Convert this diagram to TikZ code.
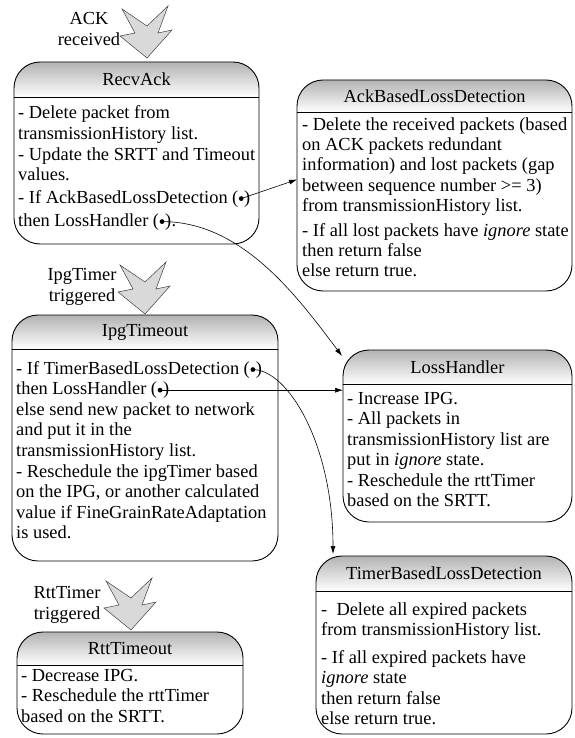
\documentclass[tikz,border=0pt]{standalone}
\usepackage{fontspec}
\setmainfont{Liberation Serif}
\usetikzlibrary{positioning,arrows.meta}
\newcommand{\rc}{26}
\newcommand{\ls}{20.6}
\colorlet{colentete}{black!30}
\tikzstyle{bord}=[line width=0.9pt]
\tikzstyle{entete}=[top color=colentete, bottom color=white]
\tikzstyle{cadre}=[inner sep=0, outer sep=0]
\tikzstyle{titre}=[inner sep=0]
\tikzstyle{ligne}=[anchor=base west, inner sep=0]
\tikzstyle{port}=[anchor=base west, inner sep=0]
\tikzstyle{fleche}=[line width=0.6pt, -{Latex[length=8pt,width=5pt]}]
\tikzstyle{fleau}=[fill=black!15, draw=black!75, line width=0.5pt]

\newcommand{\etat}[7]{%
\node[cadre, minimum width=#4-#2, minimum height=#5-#3] (#1) at ({(#2+#4)/2},{(#3+#5)/2}) {};
\begin{scope}
\clip[rounded corners=\rc] (#1.south west) rectangle (#1.north east);
\shade[entete] (#2,#3) rectangle (#4,#6);
\end{scope}
\draw[bord, rounded corners=\rc] (#1.south west) rectangle (#1.north east);
\draw[bord] (#2,#6) -- (#4,#6);
\node[titre] (#1-t) at ({(#2+#4)/2},{(#3+#6)/2}) {#7};
}
\newcommand{\chevron}[1]{\draw[fleau] (#1) -- ++(-27,-22) -- ++(15,-3) -- ++(-13,-24) -- ++(25,17) -- ++(21,-20) -- ++(-10,27) -- ++(14,-3) -- cycle;}

\begin{document}
\begin{tikzpicture}[x=1pt, y=-1pt, font=\fontsize{18.4}{20.6}\selectfont]
\useasboundingbox (0,0) rectangle (574,738);

\etat{recv}{14}{62}{259}{244}{97}{RecvAck}
\chevron{147,58}
\node[align=center, inner sep=0] (lack) at (89,29) {ACK\\received};
\foreach \t [count=\i from 0] in {- Delete packet from, transmissionHistory list., - Update the SRTT and Timeout, values.}
\node[ligne] (r\i) at (18,{119+\ls*\i}) {\t};
\node[ligne] (r4) at (18,203) {- If AckBasedLossDetection};
\node[right=4pt of r4.base east, port] (pa) {(\hspace{6pt})};
\node[ligne] (r5) at (18,226) {then LossHandler};
\node[right=4pt of r5.base east, port] (pb) {(\hspace{6pt})};
\node[right=0pt of pb.base east, port] (pbp) {.};

\etat{ackd}{297}{80}{572}{291}{112}{AckBasedLossDetection}
\foreach \t [count=\i from 0] in {- Delete the received packets (based, on ACK packets redundant, information) and lost packets (gap, between sequence number >= 3), from transmissionHistory list.}
\node[ligne] (a\i) at (302,{131+20*\i}) {\t};
\foreach \t [count=\i from 5] in {- If all lost packets have \textit{ignore} state, then return false, else return true.}
\node[ligne] (a\i) at (302,{136+20*\i}) {\t};

\etat{ipg}{12}{315}{278}{561}{349}{IpgTimeout}
\chevron{145,314}
\node[align=center, inner sep=0] (lipg) at (82,287) {IpgTimer\\triggered};
\node[ligne] (i0) at (16,374) {- If TimerBasedLossDetection};
\node[right=4pt of i0.base east, port] (pc) {(\hspace{6pt})};
\node[ligne] (i1) at (16,394.6) {then LossHandler};
\node[right=4pt of i1.base east, port] (pd) {(\hspace{6pt})};
\foreach \t [count=\i from 2] in {else send new packet to network, and put it in the, transmissionHistory list., - Reschedule the ipgTimer based, {on the IPG, or another calculated}, value if FineGrainRateAdaptation, is used.}
\node[ligne] (i\i) at (16,{374+\ls*\i}) {\t};

\etat{loss}{343}{350}{572}{522}{384}{LossHandler}
\foreach \t [count=\i from 0] in {- Increase IPG., - All packets in, transmissionHistory list are, put in \textit{ignore} state., - Reschedule the rttTimer, based on the SRTT.}
\node[ligne] (h\i) at (347,{404+20.5*\i}) {\t};

\etat{tbld}{316}{556}{572}{734}{591}{TimerBasedLossDetection}
\foreach \t [count=\i from 0] in {-\ \ Delete all expired packets, from transmissionHistory list.}
\node[ligne] (t\i) at (321,{615+20.5*\i}) {\t};
\foreach \t [count=\i from 2] in {- If all expired packets have, \textit{ignore} state, then return false, else return true.}
\node[ligne] (t\i) at (321,{622+20.5*\i}) {\t};

\etat{rtt}{17}{632}{243}{734}{665}{RttTimeout}
\chevron{131,630}
\node[align=center, inner sep=0] (lrtt) at (67,605) {RttTimer\\triggered};
\foreach \t [count=\i from 0] in {- Decrease IPG., - Reschedule the rttTimer, based on the SRTT.}
\node[ligne] (q\i) at (21,{681+20.5*\i}) {\t};

\draw[fleche] (pa.center) -- ([yshift=6]ackd.west);
\draw[fleche] (pb.center) .. controls +(80,0) and +(-45,-60) .. ([xshift=-1,yshift=-6]loss.north west);
\draw[fleche] (pc.center) .. controls +(35,0) and +(0,-110) .. ([xshift=17,yshift=2]tbld.north west);
\draw[fleche] (pd.center) -- (pd.center -| loss.west);
\foreach \p in {pa,pb,pc,pd}
\fill (\p.center) circle (2.4);

\end{tikzpicture}
\end{document}
